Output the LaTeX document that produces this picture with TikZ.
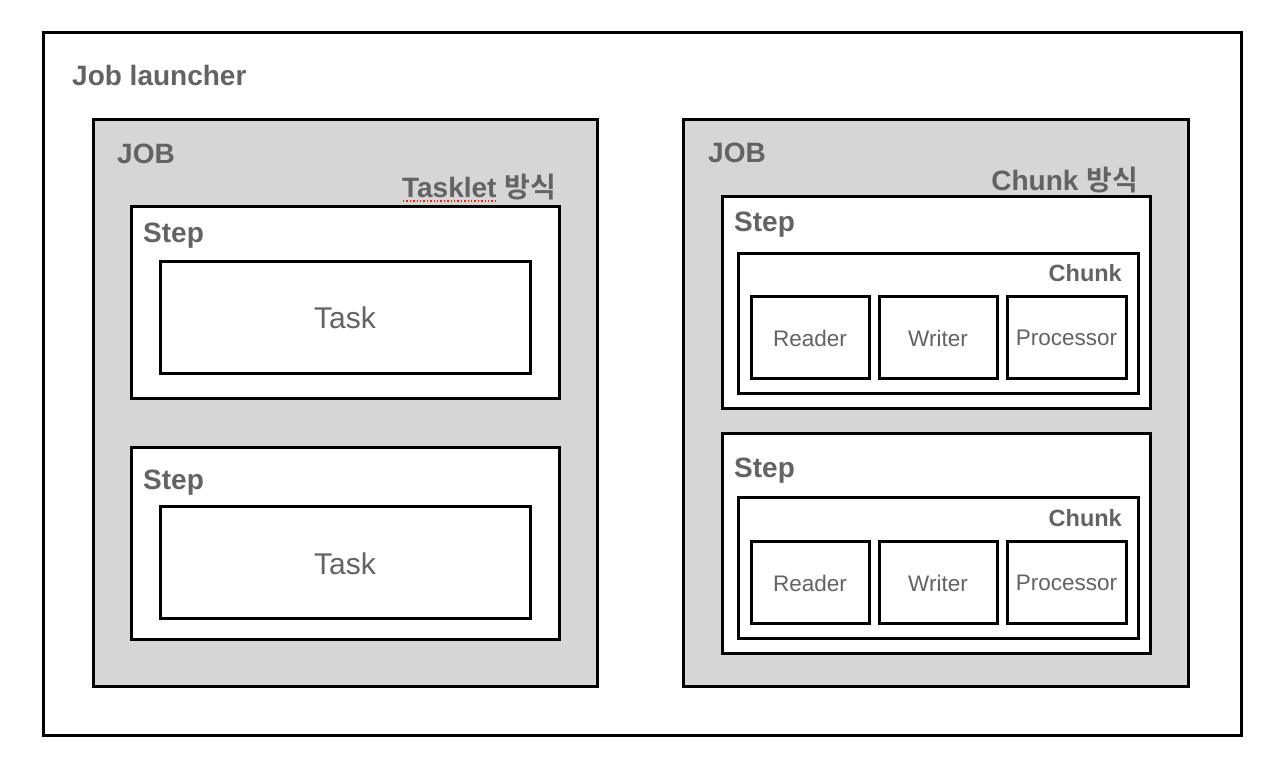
\documentclass[tikz,border=0pt]{standalone}
\usepackage{fontspec}
\setmainfont{Liberation Sans}
\newfontfamily\krfont{Noto Sans CJK KR}[BoldFont={Noto Sans CJK KR Bold}]
\definecolor{labelgray}{HTML}{636363}
\definecolor{jobfill}{HTML}{D6D6D6}
\tikzset{
  box/.style={draw=black,line width=3pt},
  biglabel/.style={text=labelgray,font=\fontsize{28}{30}\selectfont\bfseries,inner sep=0pt},
  smalllabel/.style={text=labelgray,font=\fontsize{23.5}{26}\selectfont\bfseries,inner sep=0pt},
  tasklabel/.style={text=labelgray,font=\fontsize{30}{32}\selectfont,inner sep=0pt},
  partlabel/.style={text=labelgray,font=\fontsize{22.5}{24}\selectfont,inner sep=0pt}
}
\begin{document}
\begin{tikzpicture}[x=1pt,y=-1pt]
    \useasboundingbox (0,0) rectangle (1264,776);

    % Job launcher frame
    \draw[box,fill=white] (43,33) rectangle (1241,735);
    \node[biglabel,anchor=west] (launcher) at (72,75) {Job launcher};

    % Left job: tasklet style
    \draw[box,fill=jobfill] (93,119) rectangle (597,686);
    \node[biglabel,anchor=west] (jobA) at (117,154) {JOB};
    \node[biglabel,anchor=east] (taskletlbl) at (556,187) {Tasklet {\krfont\bfseries 방식}};
    \draw[red!80!orange,line width=1.4pt,dotted] (403,201) -- (498,201);

    \draw[box,fill=white] (131,206) rectangle (559,398);
    \node[biglabel,anchor=base west] (stepA1) at (143,242) {Step};
    \draw[box,fill=white] (160,261) rectangle (530,373);
    \node[tasklabel] (taskA1) at (345,318) {Task};

    \draw[box,fill=white] (131,447) rectangle (559,639);
    \node[biglabel,anchor=base west] (stepA2) at (143,489) {Step};
    \draw[box,fill=white] (160,506) rectangle (530,618);
    \node[tasklabel] (taskA2) at (345,564) {Task};

    % Right job: chunk style
    \draw[box,fill=jobfill] (683,119) rectangle (1188,686);
    \node[biglabel,anchor=west] (jobB) at (708,153) {JOB};
    \node[biglabel,anchor=east] (chunklbl) at (1138,180) {Chunk {\krfont\bfseries 방식}};

    \draw[box,fill=white] (722,196) rectangle (1150,408);
    \node[biglabel,anchor=base west] (stepB1) at (734,231) {Step};
    \draw[box,fill=white] (738,253) rectangle (1138,393);
    \node[smalllabel,anchor=east] (chunkB1) at (1122,273) {Chunk};
    \draw[box,fill=white] (751,296) rectangle (869,378);
    \draw[box,fill=white] (879,296) rectangle (997,378);
    \draw[box,fill=white] (1007,296) rectangle (1126,378);
    \node[partlabel] (readerB1) at (810,338) {Reader};
    \node[partlabel] (writerB1) at (938,338) {Writer};
    \node[partlabel] (procB1) at (1066.5,338) {Processor};

    \draw[box,fill=white] (722,433) rectangle (1150,653);
    \node[biglabel,anchor=base west] (stepB2) at (734,477) {Step};
    \draw[box,fill=white] (738,497) rectangle (1138,638);
    \node[smalllabel,anchor=east] (chunkB2) at (1122,518) {Chunk};
    \draw[box,fill=white] (751,541) rectangle (869,623);
    \draw[box,fill=white] (879,541) rectangle (997,623);
    \draw[box,fill=white] (1007,541) rectangle (1126,623);
    \node[partlabel] (readerB2) at (810,583) {Reader};
    \node[partlabel] (writerB2) at (938,583) {Writer};
    \node[partlabel] (procB2) at (1066.5,583) {Processor};
\end{tikzpicture}
\end{document}
